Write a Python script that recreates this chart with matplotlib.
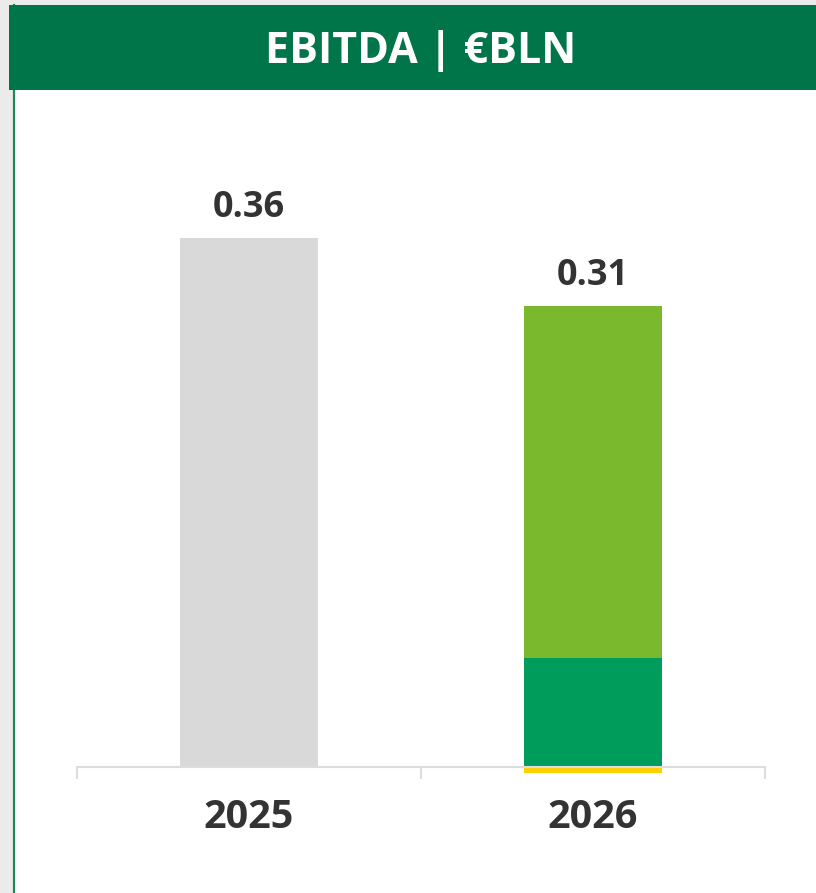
import numpy as np
import matplotlib.pyplot as plt
from matplotlib.patches import Rectangle
from matplotlib.lines import Line2D

# --- data (EUR bn) ---
years = ["2025", "2026"]
prior_year = [0.36, 0.0]
seg_dark = [0.0, 0.074]
seg_light = [0.0, 0.24]
seg_yellow = [0.0, -0.004]
totals = [0.36, 0.31]

W, H = 816, 893
TEXT = "#333333"
FONT = "Open Sans"


def fx(px):
    return px / W


def fy(py):
    return 1 - py / H


fig = plt.figure(figsize=(W / 100, H / 100), dpi=100)
fig.patch.set_facecolor("#ebebeb")

# white card, green edge and header band
fig.patches.append(Rectangle((fx(13), 0), 1 - fx(13), fy(5), transform=fig.transFigure,
                             facecolor="white", edgecolor="none", zorder=-2))
fig.lines.append(Line2D([fx(14), fx(14)], [0, fy(5)], transform=fig.transFigure,
                        color="#1a8a5a", lw=1.6, zorder=-1))
fig.patches.append(Rectangle((fx(9), fy(90)), 1 - fx(9), fy(5) - fy(90),
                             transform=fig.transFigure, facecolor="#00754a",
                             edgecolor="none", zorder=-1))
fig.text(fx(421), fy(63), "EBITDA | €BLN", color="white", fontsize=31,
         fontweight="bold", family=FONT, ha="center", va="baseline", zorder=3)

# --- chart area ---
scale = 1469.0  # px per unit
ax = fig.add_axes([fx(77), 0, fx(765) - fx(77), fy(90)])
ax.set_zorder(5)
ax.patch.set_visible(False)
ax.set_xlim(-0.5, 1.5)
ax.set_ylim(-(H - 767) / scale, (767 - 90) / scale)

x = np.arange(len(years))
w = 0.4
ax.bar(x, prior_year, w, color="#d9d9d9", zorder=2)
ax.bar(x, seg_dark, w, color="#009c5b", zorder=2)
ax.bar(x, seg_light, w, bottom=seg_dark, color="#7ab92e", zorder=2)
ax.bar(x, seg_yellow, w, color="#ffd100", zorder=2)

for s in ["top", "left", "right"]:
    ax.spines[s].set_visible(False)
ax.spines["bottom"].set_position(("data", 0))
ax.spines["bottom"].set_color("#dddddd")
ax.spines["bottom"].set_linewidth(1.5)
ax.spines["bottom"].set_zorder(3)
ax.set_yticks([])
ax.set_xticks([-0.5, 0.5, 1.5])
ax.set_xticklabels([])
ax.tick_params(axis="x", direction="out", length=8.5, width=1.5, color="#dddddd")

tops = [p + d + l for p, d, l in zip(prior_year, seg_dark, seg_light)]
for i, (t, v) in enumerate(zip(tops, totals)):
    ax.annotate(f"{v:.2f}", (x[i], t), xytext=(0, 15), textcoords="offset points",
                ha="center", va="baseline", fontsize=26, fontweight="bold",
                family=FONT, color=TEXT)
    ax.annotate(years[i], (x[i], 0), xytext=(0, -44), textcoords="offset points",
                ha="center", va="baseline", fontsize=28.5, fontweight="bold",
                family=FONT, color=TEXT)

fig.savefig("out.png", dpi=100, facecolor=fig.get_facecolor())
